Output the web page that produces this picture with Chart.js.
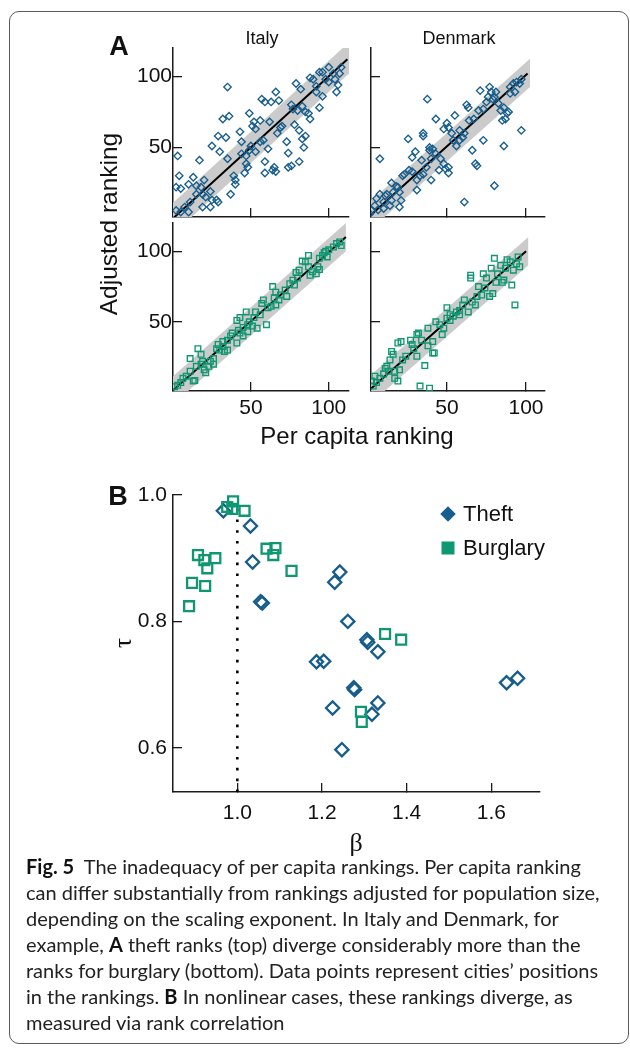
<!DOCTYPE html>
<html><head><meta charset="utf-8">
<script src="https://cdn.jsdelivr.net/npm/chart.js@4.4.1/dist/chart.umd.min.js"></script>
<style>
html,body{margin:0;padding:0;background:#fff;}
body{width:630px;height:1048px;position:relative;overflow:hidden;font-family:"Liberation Sans",Arial,sans-serif;color:#111;}
canvas{position:absolute;}
.frame{position:absolute;left:9px;top:11px;width:620px;height:1033px;box-sizing:border-box;border:1.4px solid #5a5a5a;border-radius:10px;}
.t{position:absolute;line-height:1;white-space:nowrap;transform:translate(-50%,-50%);}
.tl{position:absolute;line-height:1;white-space:nowrap;transform:translate(0,-50%);}
.rot{transform:translate(-50%,-50%) rotate(-90deg);}
.caption{position:absolute;left:26px;top:852.5px;font-family:Lato,"Open Sans",sans-serif;font-size:20px;line-height:26.1px;color:#222;white-space:nowrap;}
.caption b{font-weight:700;color:#111;}
.dia{position:absolute;width:11px;height:11px;transform:translate(-50%,-50%) rotate(45deg);}
.sq{position:absolute;width:13px;height:13px;transform:translate(-50%,-50%);}
</style></head>
<body>
<div class="frame"></div>

<script>
// ---------------- DATA ----------------
// Panel A: per capita ranking (x) vs adjusted ranking (y)
const rankTicks = [50, 100];

const italyTheftX = [35,3,4,2,5,10,13,15,17,20,18,15,19,21,24,25,28,29,24,19,11,7.5,10,5,2,25,30,29,34,32,36,35,37,39,40,40,43,44,44,47,47,49,49,51,52,53,56,57,59,50,48,46,53,56,58,59,61,62,63,66,68,64,65,66,67,69,70,73,74,74,76,78,81,84,79,82,76,77,80,83,85,87,88,88,90,92,94,96,94,92,96,100,103,104,105,106,108,107,100,98,85,83,81,59];
const italyTheftY = [92.5,44,30,22,21,24,29,23,41,27,22,17,17,15,19,13,13,11.5,8,8,11.5,8,4.5,4.5,5.6,51,47,58,57,70,72,42,17,30,27,24,61,54,45.5,38.5,44,48,74,65,68,63,69,84,82,51,36,32,47,54,55,32,49,68,82,89,83,34,36,33,60,64,65,54,36,46,37,66,40,50,95,91,80,77,76,79,75,74,70,99,98,93,103,103,78,89,86,106.5,102,98,89,94,106.5,102,96,98,58,56,62,40];

const denmarkTheftX = [37.6,7.6,25.5,35,35,43,50,51,55,62.5,63.5,71,77,78,80,82.5,85,87,88,89,97,86,73,66,69,68,80,61,30,28,23,22,26,15,31,33,40,31,34,39,41,43,46,48,49,51,39,48,53,54,56,58,60,61,64,67,70,73,75,76,79,81,84,86,90,92,94,96,97,93,90,58,28,19,20,21,20,15,14,10,11,7.6,5.5,4.4,2.3,10,16,18,12,1.3,6.5,45,51,37,35,40];
const denmarkTheftY = [84,42,56,60,58,70,67,64,72.5,80,78,90,92.5,89,85.5,81,69,70,74,75,62,51,55,48,37,38.5,23,11.5,47,43,31,30,34,25,27,30,27,20,41,48,49,45.5,42,38.5,35,32,50,63,60,55,51,55,57,60,69,70,76,77,82,85.5,84,89,76,78,92.5,95,96,95,98,89,88,62,33,22,18.5,12.7,8,12.7,9,11.5,16,17,14,9,5.6,7,18.5,22.5,17,3.3,6,34,36,36,31,42];

const italyBurgX = [1,3,5,6.4,8.5,11,11,13,14,15,16,18,19,20,21,23,24,26,28,29,30,32,33,35,35,37,38,41,41,43,43,45,45,47,48,49,51,52,53,56,57,58,60,61,63,64,65,66,68,69,72,73,75,77,78,80,81,83,85,87,88,89.5,92,93,94,96,97,99,100,103,105,107,108,98,79,66,54,48,42,32,26,18,87,94];
const italyBurgY = [4,5,7,10,11.5,15,24,8,8.5,18.5,31,27,22,16,14,18.5,22,24,31,34,30,36,29,30,37,40,42,35,51,53,42,40,46,57,48,50,47,53,57,55,63,65.5,48,60,61,75,67,71,65.5,69,72.5,68,77,79.5,76,81,86.6,93,92.5,89,83,85.5,84,89,95,97,99,96,101,103,105.4,106.6,104,100,85,62,45.5,43,44,32.6,20,20,97,87];

const denmarkBurgX = [33,39,36,42,41,31,38,41,43,38,31,32,34,27,28,29,21,19,15,16,14,12,11,13,17,20,22,24,7.6,5.5,3.4,2.3,4.4,10,19,17,45.5,48,50,52,54,56,58,60,61,65,65,68,69,70,72,73,74,75,77,78,79,80,81,82,84,85,86,87,88,90,91,92,93,94,95,96,47,50,52,58,63.5,66];
const denmarkBurgY = [4.5,3,19,28,28,25.6,33,36,50,45.5,41,42,37,37,34,31,36,35,29,27,23,18.5,17,15,15,16,23,25.6,10,7,4.5,8,11.5,13,8,10,48,45.5,52.6,55,54,57,58,62,65.5,83,81,62,68,75,69,84,74,81,68,88,70,95,78,84,90,78,79.6,88,94,92.5,76,86.6,62,91,96,89,41,60,51,55,57,64];

// fitted lines and bands (end points)
const italyTheftLineX = [0, 112],   italyTheftLineY = [0, 112];
const italyTheftBandX = [0, 113],   italyTheftBandHi = [11, 124],   italyTheftBandLo = [-11, 102];
const denmarkTheftLineX = [1.5, 101], denmarkTheftLineY = [2, 102];
const denmarkTheftBandX = [1.5, 102.5], denmarkTheftBandHi = [12, 112.5], denmarkTheftBandLo = [-8, 92.5];
const italyBurgLineX = [0, 111],    italyBurgLineY = [1.5, 110];
const italyBurgBandX = [0, 111],    italyBurgBandHi = [11.5, 120], italyBurgBandLo = [-8.5, 100];
const denmarkBurgLineX = [1.3, 100], denmarkBurgLineY = [2, 100];
const denmarkBurgBandX = [1.5, 101.5], denmarkBurgBandHi = [12, 110], denmarkBurgBandLo = [-8, 90];

// Panel B: scaling exponent beta vs rank correlation tau
const betaTicks = [1.0, 1.2, 1.4, 1.6];
const tauTicks = [0.6, 0.8, 1.0];
const theftBeta = [0.967,1.031,1.036,1.055,1.059,1.230,1.242,1.261,1.306,1.308,1.332,1.187,1.204,1.275,1.277,1.332,1.318,1.225,1.247,1.636,1.662];
const theftTau  = [0.975,0.951,0.894,0.831,0.829,0.862,0.878,0.800,0.771,0.767,0.752,0.736,0.737,0.695,0.692,0.671,0.653,0.663,0.597,0.703,0.710];
const burglaryBeta = [0.990,0.976,0.988,1.017,0.907,0.922,0.948,0.929,0.893,0.924,0.886,1.069,1.090,1.085,1.128,1.349,1.387,1.292,1.294];
const burglaryTau  = [0.990,0.981,0.978,0.975,0.905,0.897,0.900,0.884,0.861,0.856,0.824,0.915,0.916,0.905,0.880,0.780,0.771,0.657,0.641];
const linearBetaX = [1.0, 1.0], linearBetaY = [0.53, 0.99];

// ---------------- STYLE ----------------
const THEFT = '#165d8c', BURG = '#0f9772', BAND = '#cbcbcb', INK = '#1a1a1a';
Chart.defaults.font.family = "'Liberation Sans', Arial, sans-serif";
Chart.defaults.color = '#111';
Chart.defaults.animation = false;
Chart.defaults.plugins.legend.display = false;
Chart.defaults.plugins.tooltip.enabled = false;

function pts(xs, ys){ return xs.map((x,i)=>({x:x, y:ys[i]})); }

const PADL = 80, PADT = 30, PADR = 20, PADB = 45;
function makeCanvas(area){
  const [L,T,R,B] = area;
  const c = document.createElement('canvas');
  c.width = R - L + PADL + PADR; c.height = B - T + PADT + PADB;
  c.style.left = (L - PADL) + 'px'; c.style.top = (T - PADT) + 'px';
  c.style.width = c.width + 'px'; c.style.height = c.height + 'px';
  document.body.appendChild(c);
  return c;
}

function axis(min, max, tickVals, showLabels, size, pad, fmt){
  return {
    type:'linear', min:min, max:max,
    afterBuildTicks: s => { s.ticks = tickVals.map(v => ({value:v})); },
    afterFit: s => { if (s.isHorizontal()) s.height = size; else s.width = size; },
    border:{display:true, color:INK, width:1.5},
    grid:{display:true, drawOnChartArea:false, drawTicks:true, tickLength:-9, color:INK, lineWidth:1.3},
    ticks:{display:showLabels, autoSkip:false, maxRotation:0, font:{size:21}, color:'#111', padding:pad,
           callback: fmt || (v => String(v))}
  };
}

function panelA(area, xMin, xMax, xs, ys, color, style, radius, lx, ly, bx, bhi, blo, showX, showY){
  const c = makeCanvas(area);
  new Chart(c, {
    type:'scatter',
    data:{datasets:[
      {data:pts(xs,ys), pointStyle:style, pointRadius:radius, pointBorderColor:color, pointBackgroundColor:'rgba(0,0,0,0)', pointBorderWidth:1.35, order:0},
      {data:pts(lx,ly), showLine:true, borderColor:'#000', borderWidth:2, pointRadius:0, order:1},
      {data:pts(bx,bhi), showLine:true, borderWidth:0, borderColor:'rgba(0,0,0,0)', pointRadius:0, fill:'+1', backgroundColor:BAND, order:2},
      {data:pts(bx,blo), showLine:true, borderWidth:0, borderColor:'rgba(0,0,0,0)', pointRadius:0, order:3}
    ]},
    options:{
      responsive:false, devicePixelRatio:1,
      layout:{padding:{left:0, top:PADT, right:PADR, bottom:0}},
      scales:{
        x: axis(xMin, xMax, rankTicks, showX, PADB, 14),
        y: axis(1, 120, rankTicks, showY, PADL, 10)
      }
    }
  });
}

// Panel A charts
panelA([173,48,349,217], 0, 113, italyTheftX, italyTheftY, THEFT, 'rectRot', 3.7,
       italyTheftLineX, italyTheftLineY, italyTheftBandX, italyTheftBandHi, italyTheftBandLo, false, true);
panelA([371,48,545,217], 2, 112, denmarkTheftX, denmarkTheftY, THEFT, 'rectRot', 3.7,
       denmarkTheftLineX, denmarkTheftLineY, denmarkTheftBandX, denmarkTheftBandHi, denmarkTheftBandLo, false, false);
panelA([173,223,349,391], 0, 113, italyBurgX, italyBurgY, BURG, 'rect', 4.0,
       italyBurgLineX, italyBurgLineY, italyBurgBandX, italyBurgBandHi, italyBurgBandLo, true, true);
panelA([371,223,545,391], 2, 112, denmarkBurgX, denmarkBurgY, BURG, 'rect', 4.0,
       denmarkBurgLineX, denmarkBurgLineY, denmarkBurgBandX, denmarkBurgBandHi, denmarkBurgBandLo, true, false);

// Panel B chart
(function(){
  const c = makeCanvas([173,495,540,792]);
  new Chart(c, {
    type:'scatter',
    data:{datasets:[
      {data:pts(burglaryBeta, burglaryTau), pointStyle:'rect', pointRadius:7, pointBorderColor:BURG, pointBackgroundColor:'rgba(0,0,0,0)', pointBorderWidth:2.3, order:0},
      {data:pts(theftBeta, theftTau), pointStyle:'rectRot', pointRadius:6.6, pointBorderColor:THEFT, pointBackgroundColor:'rgba(0,0,0,0)', pointBorderWidth:2.3, order:1},
      {data:pts(linearBetaX, linearBetaY), showLine:true, borderColor:'#000', borderWidth:2.6, borderDash:[2.6,8.2], borderCapStyle:'butt', pointRadius:0, order:2}
    ]},
    options:{
      responsive:false, devicePixelRatio:1,
      layout:{padding:{left:0, top:PADT, right:PADR, bottom:0}},
      scales:{
        x: axis(0.848, 1.715, betaTicks, true, PADB, 18, v => v.toFixed(1)),
        y: axis(0.53, 1.0, tauTicks, true, PADL, 15, v => v.toFixed(1))
      }
    }
  });
})();
</script>

<!-- text labels -->
<div class="t" style="left:119px;top:46px;font-size:27px;font-weight:bold;">A</div>
<div class="t" style="left:262px;top:38px;font-size:18px;">Italy</div>
<div class="t" style="left:459px;top:38px;font-size:18px;">Denmark</div>
<div class="t rot" style="left:109px;top:224px;font-size:24.5px;">Adjusted ranking</div>
<div class="t" style="left:357px;top:436px;font-size:24px;">Per capita ranking</div>

<div class="t" style="left:118px;top:496px;font-size:27px;font-weight:bold;">B</div>
<div class="dia" style="left:448px;top:514px;background:#165d8c;"></div>
<div class="tl" style="left:463px;top:514px;font-size:22px;">Theft</div>
<div class="sq" style="left:448px;top:548px;background:#0f9772;"></div>
<div class="tl" style="left:463px;top:548px;font-size:22px;">Burglary</div>
<div class="t rot" style="left:122px;top:643px;font-size:25px;font-family:'Liberation Serif','DejaVu Serif',serif;">τ</div>
<div class="t" style="left:356px;top:843px;font-size:26px;font-family:'Liberation Serif','DejaVu Serif',serif;">β</div>

<div class="caption"><b>Fig. 5</b>&nbsp; The inadequacy of per capita rankings. Per capita ranking<br>can differ substantially from rankings adjusted for population size,<br>depending on the scaling exponent. In Italy and Denmark, for<br>example, <b>A</b> theft ranks (top) diverge considerably more than the<br>ranks for burglary (bottom). Data points represent cities’ positions<br>in the rankings. <b>B</b> In nonlinear cases, these rankings diverge, as<br>measured via rank correlation</div>
</body></html>
